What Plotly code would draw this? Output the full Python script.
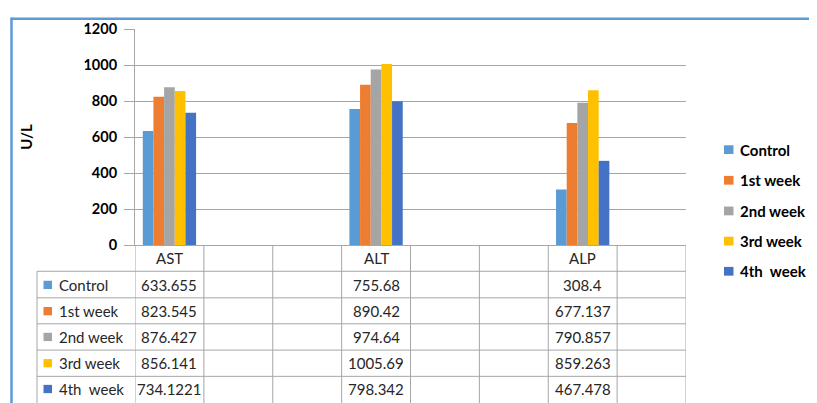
import plotly.graph_objects as go

categories = ["AST", "", "", "ALT", "", "", "ALP", ""]
series_names = ["Control", "1st week", "2nd week", "3rd week", "4th  week"]
colors = ["#5B9BD5", "#ED7D31", "#A5A5A5", "#FFC000", "#4472C4"]
ast = [633.655, 823.545, 876.427, 856.141, 734.1221]
alt = [755.68, 890.42, 974.64, 1005.69, 798.342]
alp = [308.4, 677.137, 790.857, 859.263, 467.478]
y_ticks = [0, 200, 400, 600, 800, 1000, 1200]

OFF = 8  # page body margin of the browser
W, H = 817 - OFF, 403 - OFF
L, R, T, B = 135, 686, 23, 245  # plot area in reference pixels


def px(xp):
    return (xp - L) / (R - L)


def py(yp):
    return (B - yp) / (B - T)


FONT = "Lato"
GRID = "#A6A6A6"
TXT = "#262626"

values_by_cat = {0: ast, 3: alt, 6: alp}

fig = go.Figure()
xs = list(range(len(categories)))
for i, name in enumerate(series_names):
    ys = [values_by_cat[c][i] if c in values_by_cat else None for c in xs]
    fig.add_trace(go.Bar(x=xs, y=ys, name=name, marker_color=colors[i],
                         marker_line_width=0, showlegend=False))

fig.update_layout(
    width=W, height=H,
    margin=dict(l=L - OFF, r=817 - R, t=T - OFF, b=403 - B),
    paper_bgcolor="white", plot_bgcolor="white",
    barmode="group", bargap=0.226, bargroupgap=0,
    font=dict(family=FONT, color="#000000"),
)
fig.update_xaxes(range=[-0.5, len(categories) - 0.5], showticklabels=False,
                 showgrid=False, zeroline=False, showline=True,
                 linecolor=GRID, linewidth=1, ticks="", fixedrange=True)
fig.update_yaxes(range=[0, 1200], tickvals=y_ticks, showgrid=True, gridcolor=GRID,
                 gridwidth=1, zeroline=False, showline=True, linecolor=GRID,
                 ticks="outside", ticklen=10, tickcolor=GRID,
                 ticklabelstandoff=4,
                 tickfont=dict(family=FONT, size=14.5, color="#000000", weight="bold"),
                 title=dict(text="<b>U/L</b>", font=dict(family=FONT, size=15, color="#000000"),
                            standoff=47))

shapes = []
annotations = []

# Table: vertical lines at category boundaries
for k in range(len(categories) + 1):
    shapes.append(dict(type="line", xref="x", yref="paper", x0=k - 0.5, x1=k - 0.5,
                       y0=py(245), y1=py(410), line=dict(color=GRID, width=1)))
# left border of legend column
shapes.append(dict(type="line", xref="paper", yref="paper", x0=px(37), x1=px(37),
                   y0=py(272), y1=py(410), line=dict(color=GRID, width=1)))
row_lines = [272, 299.3, 326, 353, 380]
for yl in row_lines:
    shapes.append(dict(type="line", xref="paper", yref="paper", x0=px(37), x1=1,
                       y0=py(yl), y1=py(yl), line=dict(color=GRID, width=1)))

# header labels
for c, lab in enumerate(categories):
    if lab:
        annotations.append(dict(x=c, y=py(258.5), xref="x", yref="paper", text=lab,
                                showarrow=False, font=dict(family=FONT, size=15, color=TXT),
                                xanchor="center", yanchor="middle"))
row_centres = [286, 313, 339.5, 366.5, 393]
for i, name in enumerate(series_names):
    yc = row_centres[i]
    shapes.append(dict(type="rect", xref="paper", yref="paper", x0=px(43.5), x1=px(52),
                       y0=py(yc - 4.25), y1=py(yc + 4.25), fillcolor=colors[i],
                       line=dict(width=0)))
    annotations.append(dict(x=px(56.5), y=py(yc), xref="paper", yref="paper",
                            text=name.replace("  ", "&nbsp;&nbsp;"), showarrow=False,
                            font=dict(family=FONT, size=15, color=TXT),
                            xanchor="left", yanchor="middle"))
    for c, vals in values_by_cat.items():
        annotations.append(dict(x=c, y=py(yc), xref="x", yref="paper", text=str(vals[i]),
                                showarrow=False, font=dict(family=FONT, size=15, color=TXT),
                                xanchor="center", yanchor="middle"))

# Legend (right side)
leg_y = [147, 178.5, 210, 241, 272]
for i, name in enumerate(series_names):
    yc = leg_y[i]
    shapes.append(dict(type="rect", xref="paper", yref="paper", x0=px(724), x1=px(733.5),
                       y0=py(yc - 4.5), y1=py(yc + 4.5), fillcolor=colors[i],
                       line=dict(width=0)))
    annotations.append(dict(x=px(738), y=py(yc), xref="paper", yref="paper",
                            text="<b>" + name.replace("  ", "&nbsp;&nbsp;") + "</b>",
                            showarrow=False, font=dict(family=FONT, size=15, color="#000000"),
                            xanchor="left", yanchor="middle"))

# Blue frame (top and left edges)
shapes.append(dict(type="line", xref="paper", yref="paper", x0=px(10.5), x1=px(820),
                   y0=py(12.5), y1=py(12.5), line=dict(color="#5B9BD5", width=2.5)))
shapes.append(dict(type="line", xref="paper", yref="paper", x0=px(11.5), x1=px(11.5),
                   y0=py(11.5), y1=py(410), line=dict(color="#5B9BD5", width=2.5)))

fig.update_layout(shapes=shapes, annotations=annotations)
fig.write_html("out.html")
